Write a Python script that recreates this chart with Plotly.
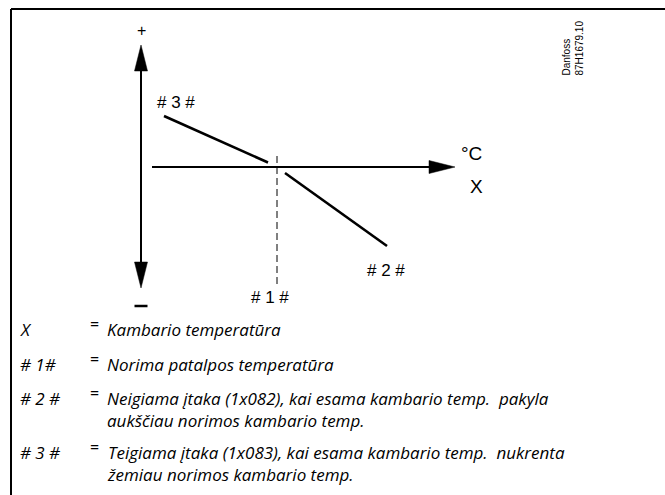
import plotly.graph_objects as go

# Schematic units: origin where the two axes cross, 1 unit = 10 px on the page
W, H = 665, 495
ORIGIN_PX = (141, 167)
UNIT = 10.0

# Setpoint (# 1 #) on the temperature axis
setpoint_x = 13.6
# # 3 # positive influence branch (below setpoint)
line3_x = [2.3, 12.7]
line3_y = [5.1, 0.45]
# # 2 # negative influence branch (above setpoint)
line2_x = [14.4, 24.6]
line2_y = [-0.6, -7.9]

# Axis extents
yaxis_top, yaxis_bottom = 12.2, -12.1
xaxis_left, xaxis_right = 1.1, 31.4
dash_top, dash_bottom = 1.1, -11.8

legend_keys = ["X", "# 1#", "# 2 #", "# 3 #"]
legend_texts = [
    "Kambario temperatūra",
    "Norima patalpos temperatūra",
    "Neigiama įtaka (1x082), kai esama kambario temp.  pakyla<br>aukščiau norimos kambario temp.",
    "Teigiama įtaka (1x083), kai esama kambario temp.  nukrenta<br>žemiau norimos kambario temp.",
]
legend_rows_px = [329, 364, 398, 452]


def px(x):
    return (x - ORIGIN_PX[0]) / UNIT


def py(y):
    return (ORIGIN_PX[1] - y) / UNIT


fig = go.Figure()

# Two characteristic branches
for xs, ys in [(line3_x, line3_y), (line2_x, line2_y)]:
    fig.add_trace(go.Scatter(x=xs, y=ys, mode="lines",
                             line=dict(color="black", width=2.6),
                             hoverinfo="skip", showlegend=False))

shapes = []
# Frame (top and left edges)
shapes.append(dict(type="line", x0=px(11), x1=px(W + 5), y0=py(9), y1=py(9),
                   line=dict(color="black", width=2)))
shapes.append(dict(type="line", x0=px(11), x1=px(11), y0=py(9), y1=py(H + 5),
                   line=dict(color="black", width=2)))

ah_len, ah_half = 2.6, 0.65
# Vertical axis with arrows both ends
shapes.append(dict(type="line", x0=0, x1=0, y0=yaxis_bottom + ah_len - 0.2,
                   y1=yaxis_top - ah_len + 0.2, line=dict(color="black", width=2)))
shapes.append(dict(type="path",
                   path=f"M 0 {yaxis_top} L {-ah_half} {yaxis_top - ah_len} L {ah_half} {yaxis_top - ah_len} Z",
                   fillcolor="black", line=dict(color="black", width=0.5)))
shapes.append(dict(type="path",
                   path=f"M 0 {yaxis_bottom} L {-ah_half} {yaxis_bottom + ah_len} L {ah_half} {yaxis_bottom + ah_len} Z",
                   fillcolor="black", line=dict(color="black", width=0.5)))
# Minus sign below the vertical axis
shapes.append(dict(type="line", x0=-0.65, x1=0.65, y0=py(306), y1=py(306),
                   line=dict(color="black", width=2.5)))
# Horizontal axis with arrow
shapes.append(dict(type="line", x0=xaxis_left, x1=xaxis_right - ah_len + 0.2, y0=0, y1=0,
                   line=dict(color="black", width=2)))
shapes.append(dict(type="path",
                   path=f"M {xaxis_right} 0 L {xaxis_right - ah_len} {ah_half} L {xaxis_right - ah_len} {-ah_half} Z",
                   fillcolor="black", line=dict(color="black", width=0.5)))
# Setpoint dashed marker
shapes.append(dict(type="line", x0=setpoint_x, x1=setpoint_x, y0=dash_top, y1=dash_bottom,
                   line=dict(color="black", width=1, dash="7px,4px")))

diag_font = dict(family="Liberation Sans, Arial", size=17, color="black")
ann = []
ann.append(dict(x=0, y=py(30), text="+", font=dict(family="Liberation Sans", size=16, color="black"),
                showarrow=False))
ann.append(dict(x=px(176), y=py(102), text="# 3 #", font=diag_font, showarrow=False))
ann.append(dict(x=px(386), y=py(270), text="# 2 #", font=diag_font, showarrow=False))
ann.append(dict(x=setpoint_x - 0.7, y=py(297), text="# 1 #", font=diag_font, showarrow=False))
ann.append(dict(x=px(471), y=py(153), text="°C", font=dict(family="Liberation Sans", size=19, color="black"),
                showarrow=False))
ann.append(dict(x=px(476), y=py(186), text="X", font=dict(family="Liberation Sans", size=19, color="black"),
                showarrow=False))
ann.append(dict(x=px(572), y=py(78), text="Danfoss<br>87H1679.10", textangle=-90,
                font=dict(family="Liberation Sans", size=10, color="black"),
                align="left", xanchor="center", yanchor="bottom", showarrow=False))

leg_font = dict(family="Open Sans", size=17, color="black")
for key, txt, yrow in zip(legend_keys, legend_texts, legend_rows_px):
    ann.append(dict(x=px(18), y=py(yrow), text=f"<i>{key}</i>", font=leg_font,
                    xanchor="left", yanchor="middle", showarrow=False))
    ann.append(dict(x=px(88), y=py(yrow - 5), text="=", font=dict(family="Open Sans", size=16, color="black"),
                    xanchor="left", yanchor="middle", showarrow=False))
    ann.append(dict(x=px(105), y=py(yrow), text=f"<i>{txt}</i>", font=leg_font,
                    xanchor="left", yanchor="top" if "<br>" in txt else "middle",
                    yshift=13 if "<br>" in txt else 0,
                    align="left", showarrow=False))

fig.update_layout(
    width=W, height=H,
    margin=dict(l=0, r=0, t=0, b=0),
    paper_bgcolor="white", plot_bgcolor="white",
    xaxis=dict(range=[px(0), px(W)], visible=False, fixedrange=True),
    yaxis=dict(range=[py(H), py(0)], visible=False, fixedrange=True),
    shapes=shapes, annotations=ann, showlegend=False,
)

fig.write_html("out.html")
